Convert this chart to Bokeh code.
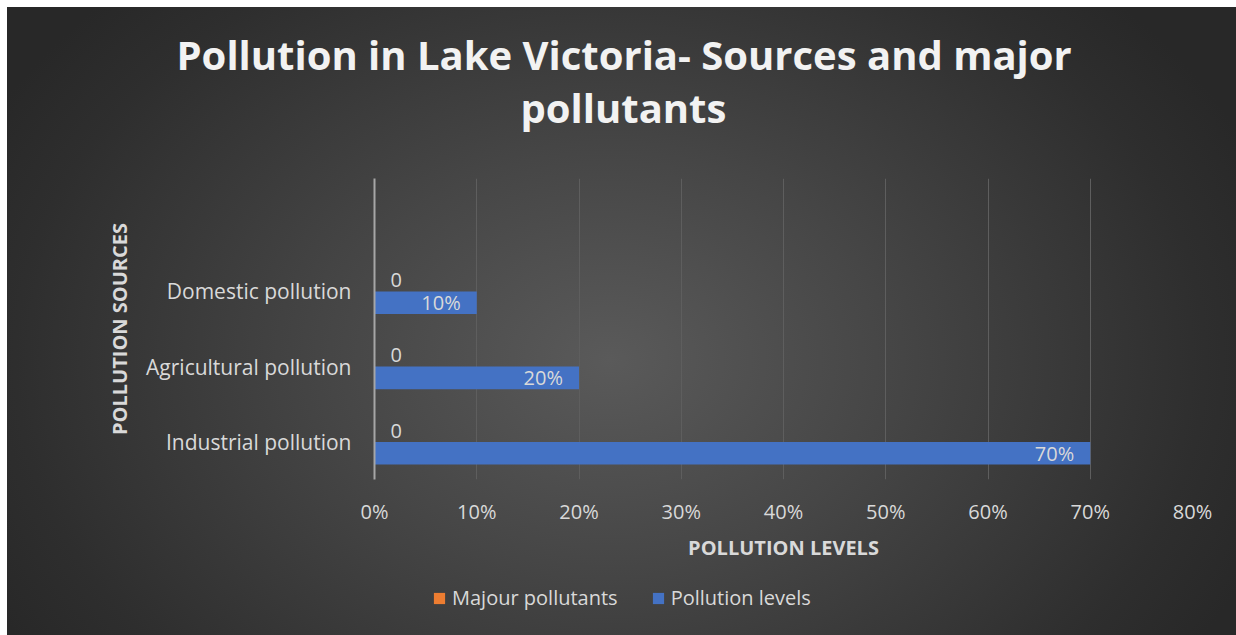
from bokeh.plotting import figure
from bokeh.layouts import column
from bokeh.models import (ColumnDataSource, FactorRange, Range1d, NumeralTickFormatter,
                          FixedTicker, Legend, LegendItem, Title, LabelSet)
from bokeh.transform import dodge
from bokeh.core.properties import value
from bokeh.embed import file_html
from bokeh.resources import INLINE

# ---- data ----
categories = [" ", "Domestic pollution", "Agricultural pollution", "Industrial pollution"]
sources = ["Industrial pollution", "Agricultural pollution", "Domestic pollution"]
pollution_levels = [0.70, 0.20, 0.10]
major_pollutants = [0, 0, 0]
x_ticks = [0.0, 0.1, 0.2, 0.3, 0.4, 0.5, 0.6, 0.7, 0.8]
title_lines = ["Pollution in Lake Victoria- Sources and major", "pollutants"]
series_names = ["Majour pollutants", "Pollution levels"]

FONT = "Open Sans"
TXT = "#d9d9d9"
BLUE = "#4472C4"
ORANGE = "#ED7D31"

src = ColumnDataSource(dict(
    source=sources,
    levels=pollution_levels,
    major=major_pollutants,
    levels_txt=[f"{int(round(v * 100))}%" for v in pollution_levels],
    major_txt=[str(v) for v in major_pollutants],
))

factors = list(reversed(categories))


def bare(fig):
    fig.border_fill_color = None
    fig.background_fill_color = None
    fig.outline_line_color = None
    fig.grid.visible = False


# ---- title strip ----
pt = figure(width=1229, height=150, x_range=Range1d(0, 0.8), y_range=Range1d(0, 1),
            output_backend="svg", toolbar_location=None,
            x_axis_location=None, y_axis_location=None,
            min_border_top=127, min_border_bottom=0, min_border_left=0, min_border_right=0)
bare(pt)
t2 = Title(text=title_lines[1], align="left", text_font=FONT, text_font_size="40px",
           text_font_style="bold", text_color="#f2f2f2", offset=146, standoff=0)
t1 = Title(text=title_lines[0], align="left", text_font=FONT, text_font_size="40px",
           text_font_style="bold", text_color="#f2f2f2", offset=-198, standoff=-8)
pt.add_layout(t2, "above")
pt.add_layout(t1, "above")

# ---- main chart ----
p = figure(frame_width=818, frame_height=301,
           y_range=FactorRange(factors=factors),
           x_range=Range1d(0, 0.8),
           output_backend="svg", toolbar_location=None,
           min_border_left=367, min_border_right=44,
           min_border_top=21, min_border_bottom=82)
p.border_fill_color = None
p.background_fill_color = None
p.outline_line_color = None

blue_r = p.hbar(y=dodge("source", -0.15, range=p.y_range), right="levels", left=0,
                height=0.3, source=src, fill_color=BLUE, line_color=None)
orange_r = p.hbar(y=dodge("source", 0.15, range=p.y_range), right="major", left=0,
                  height=0.3, source=src, fill_color=ORANGE, line_color=None)

p.add_layout(LabelSet(x="levels", y=dodge("source", -0.15, range=p.y_range), text="levels_txt",
                      source=src, x_offset=-16, text_align="right", text_baseline="middle",
                      text_font=value(FONT), text_font_size="20px", text_color=TXT))
p.add_layout(LabelSet(x="major", y=dodge("source", 0.15, range=p.y_range), text="major_txt",
                      source=src, x_offset=16, text_align="left", text_baseline="middle",
                      text_font=value(FONT), text_font_size="20px", text_color=TXT))

p.xaxis.ticker = FixedTicker(ticks=x_ticks)
p.xaxis.formatter = NumeralTickFormatter(format="0%")
p.xaxis.axis_line_color = None
p.xaxis.major_tick_line_color = None
p.xaxis.minor_tick_line_color = None
p.xaxis.major_tick_out = 0
p.xaxis.major_tick_in = 0
p.xaxis.major_label_standoff = 18
p.xaxis.major_label_text_font = FONT
p.xaxis.major_label_text_font_size = "20px"
p.xaxis.major_label_text_color = TXT
p.xaxis.axis_label = "POLLUTION LEVELS"
p.xaxis.axis_label_text_font = FONT
p.xaxis.axis_label_text_font_size = "20px"
p.xaxis.axis_label_text_font_style = "bold"
p.xaxis.axis_label_text_color = TXT
p.xaxis.axis_label_standoff = 6

p.yaxis.axis_line_color = "#a6a6a6"
p.yaxis.axis_line_width = 2
p.yaxis.major_tick_line_color = None
p.yaxis.minor_tick_line_color = None
p.yaxis.major_tick_out = 0
p.yaxis.major_tick_in = 0
p.yaxis.major_label_standoff = 23
p.yaxis.major_label_text_font = FONT
p.yaxis.major_label_text_font_size = "21px"
p.yaxis.major_label_text_color = TXT
p.yaxis.axis_label = "POLLUTION SOURCES"
p.yaxis.axis_label_text_font = FONT
p.yaxis.axis_label_text_font_size = "20px"
p.yaxis.axis_label_text_font_style = "bold"
p.yaxis.axis_label_text_color = TXT
p.yaxis.axis_label_standoff = 10

p.xgrid.grid_line_color = "#5e5e5e"
p.xgrid.grid_line_width = 1
p.ygrid.grid_line_color = None

# ---- legend strip ----
pl = figure(width=1229, height=72, x_range=Range1d(0, 0.8), y_range=Range1d(2, 3),
            output_backend="svg", toolbar_location=None,
            x_axis_location=None, y_axis_location=None,
            min_border_left=0, min_border_right=0, min_border_top=0, min_border_bottom=0)
bare(pl)
# legend-only renderers: zero-height bars lying outside this strip's visible range
lg_orange = pl.hbar(y="levels", right="major", left=0, height=0, source=src,
                    fill_color=ORANGE, line_color=None)
lg_blue = pl.hbar(y="levels", right="levels", left=0, height=0, source=src,
                  fill_color=BLUE, line_color=None)

legend = Legend(items=[LegendItem(label=series_names[0], renderers=[lg_orange]),
                       LegendItem(label=series_names[1], renderers=[lg_blue])],
                orientation="horizontal", location=(58, 24),
                label_text_font=FONT, label_text_font_size="20px", label_text_color=TXT,
                background_fill_alpha=0, border_line_alpha=0,
                glyph_width=14, glyph_height=14, label_standoff=6, spacing=33,
                padding=0, margin=0)
pl.add_layout(legend)

layout = column(pt, p, pl, spacing=0, margin=(7, 0, 0, 7))
layout.styles = {"background": "radial-gradient(ellipse 700px 520px at 603px 353px, "
                               "#5a5a5a 0%, #464646 40%, #2e2e2e 85%, #282828 100%)"}

open("out.html", "w").write(file_html(layout, INLINE))
